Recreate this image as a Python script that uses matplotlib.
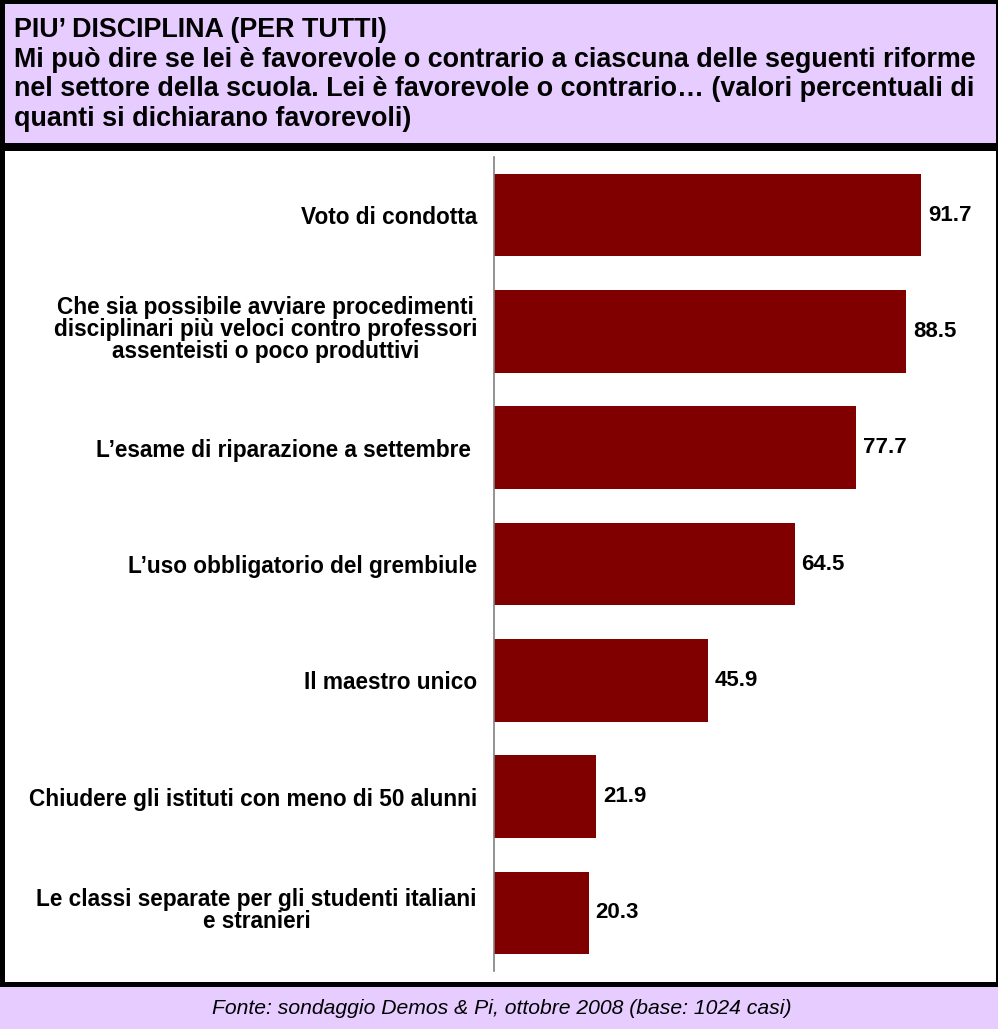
import matplotlib
matplotlib.use("Agg")
import matplotlib.pyplot as plt
from matplotlib.patches import Rectangle
from matplotlib import font_manager
from matplotlib.transforms import ScaledTranslation

plt.rcParams["font.family"] = ["Liberation Sans", "DejaVu Sans"]

# Survey items (top to bottom) and share in favour (%)
categories = [
    "Voto di condotta",
    "Che sia possibile avviare procedimenti\ndisciplinari più veloci contro professori\nassenteisti o poco produttivi",
    "L\u2019esame di riparazione a settembre ",
    "L\u2019uso obbligatorio del grembiule",
    "Il maestro unico",
    "Chiudere gli istituti con meno di 50 alunni",
    "Le classi separate per gli studenti italiani\ne stranieri",
]
values = [91.7, 88.5, 77.7, 64.5, 45.9, 21.9, 20.3]

title_lines = [
    "PIU\u2019 DISCIPLINA (PER TUTTI)",
    "Mi può dire se lei è favorevole o contrario a ciascuna delle seguenti riforme",
    "nel settore della scuola. Lei è favorevole o contrario\u2026 (valori percentuali di",
    "quanti si dichiarano favorevoli)",
]
source = "Fonte: sondaggio Demos & Pi, ottobre 2008 (base: 1024 casi)"

W, H = 998, 1029
LAVENDER = "#E6CCFF"
BAR = "#800000"

# condensed face for the header and source line, if present
narrow_family = None
for fam in ("Liberation Sans Narrow", "Arial Narrow"):
    try:
        font_manager.findfont(font_manager.FontProperties(family=fam),
                              fallback_to_default=False)
        narrow_family = fam
        break
    except Exception:
        pass
if narrow_family:
    head_family, head_size, foot_size = [narrow_family, "DejaVu Sans"], 15.95, 12.5
else:
    head_family, head_size, foot_size = ["Liberation Sans", "DejaVu Sans"], 19.4, 15.2

fig = plt.figure(figsize=(W / 100, H / 100), dpi=100)
fig.patch.set_facecolor("white")


def px(x0, y0, w, h, color):
    # rectangle in pixel coordinates measured from top-left
    fig.add_artist(Rectangle((x0 / W, 1 - (y0 + h) / H), w / W, h / H,
                             transform=fig.transFigure, facecolor=color,
                             edgecolor="none", zorder=0))


# frame, header and footer bands
px(0, 0, W, H, "black")
px(5, 4, W - 7, 139, LAVENDER)
px(5, 151, W - 7, 831, "white")
px(0, 987, W, H - 987, LAVENDER)

# title block
for i, line in enumerate(title_lines):
    fig.text(14 / W, 1 - (37 + 29.6 * i) / H, line, fontsize=head_size,
             fontweight="bold", ha="left", va="baseline", family=head_family)

fig.text(502 / W, 1 - 1008 / H, source, fontsize=foot_size, style="italic",
         ha="center", va="center", family=head_family)

# bar chart
ax_left, ax_right = 494, 960
ax_top, ax_bottom = 157, 971
ax = fig.add_axes([ax_left / W, 1 - ax_bottom / H,
                   (ax_right - ax_left) / W, (ax_bottom - ax_top) / H])
ax.set_facecolor("none")
ypos = list(range(len(values)))
ax.barh(ypos, values, height=0.71, color=BAR, zorder=2)
ax.set_xlim(0, 100)
ax.set_ylim(len(values) - 0.5, -0.5)
for s in ("top", "right", "bottom"):
    ax.spines[s].set_visible(False)
ax.spines["left"].set_color("#808080")
ax.spines["left"].set_linewidth(1.2)
ax.set_xticks([])
ax.set_yticks(ypos)
ax.set_yticklabels(categories, fontsize=16.3, fontweight="bold",
                   ha="center", linespacing=0.95)
ax.tick_params(axis="y", length=0, pad=0)

for y, v in zip(ypos, values):
    ax.annotate(f"{v:.1f}", (v, y), xytext=(5, 0), textcoords="offset points",
                ha="left", va="center", fontsize=16, fontweight="bold")

fig.canvas.draw()
# centred multi-line labels, right edges aligned at x = 477 px;
# wrapped labels sit slightly above the bar centre
for lbl in ax.get_yticklabels():
    bb = lbl.get_window_extent()
    dx = 477 - bb.x1
    dy = 4 if "\n" in lbl.get_text() else 0
    lbl.set_transform(lbl.get_transform()
                      + ScaledTranslation(dx / 100, dy / 100, fig.dpi_scale_trans))

fig.savefig("out.png", dpi=100)
